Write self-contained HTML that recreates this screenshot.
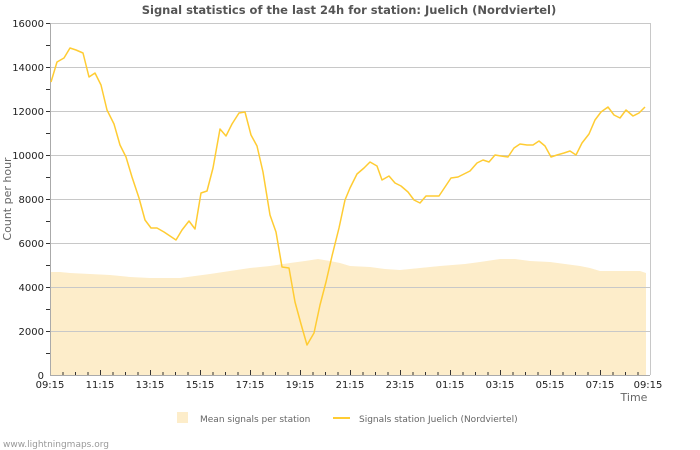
<!DOCTYPE html>
<html><head><meta charset="utf-8"><style>
body{margin:0;background:#fff;}
svg{display:block;font-family:"DejaVu Sans","Liberation Sans",sans-serif;}
</style></head><body>
<svg width="700" height="450" viewBox="0 0 700 450" xmlns="http://www.w3.org/2000/svg">
<rect width="700" height="450" fill="#fff"/>
<text x="349" y="14" text-anchor="middle" font-size="11.5" font-weight="bold" fill="#555">Signal statistics of the last 24h for station: Juelich (Nordviertel)</text>
<polygon fill="#fdedca" points="50.5,375 50.5,272 60,272 70,273 90,274 110,275 130,277 150,278 180,278 195,276 210,274 230,271 250,268 270,266 290,263 305,261 318,259 330,261 340,263 350,266 370,267 385,269 400,270 420,268 440,266 465,264 480,262 500,259 515,259 530,261 550,262 565,264 580,266 590,268 600,271 620,271 640,271 646,273 646,375"/>
<g stroke="#c8c8c8" stroke-width="1">
<line x1="50" y1="23.5" x2="650" y2="23.5"/>
<line x1="50" y1="67.5" x2="650" y2="67.5"/>
<line x1="50" y1="111.5" x2="650" y2="111.5"/>
<line x1="50" y1="155.5" x2="650" y2="155.5"/>
<line x1="50" y1="199.5" x2="650" y2="199.5"/>
<line x1="50" y1="243.5" x2="650" y2="243.5"/>
<line x1="50" y1="287.5" x2="650" y2="287.5"/>
<line x1="50" y1="331.5" x2="650" y2="331.5"/>
<line x1="650.5" y1="23" x2="650.5" y2="375"/>
</g>
<g stroke="#aaa" stroke-width="1">
<line x1="50.5" y1="23" x2="50.5" y2="375"/>
<line x1="50" y1="375.5" x2="650" y2="375.5"/>
</g>
<g stroke="#333" stroke-width="1">
<path d="M46 23.5h4M46 45.5h4M46 67.5h4M46 89.5h4M46 111.5h4M46 133.5h4M46 155.5h4M46 177.5h4M46 199.5h4M46 221.5h4M46 243.5h4M46 265.5h4M46 287.5h4M46 309.5h4M46 331.5h4M46 353.5h4"/>
<path d="M100.5 370v5M150.5 370v5M200.5 370v5M250.5 370v5M300.5 370v5M350.5 370v5M400.5 370v5M450.5 370v5M500.5 370v5M550.5 370v5M600.5 370v5"/>
<path d="M63 372v3M75.5 372v3M88 372v3M113 372v3M125.5 372v3M138 372v3M163 372v3M175.5 372v3M188 372v3M213 372v3M225.5 372v3M238 372v3M263 372v3M275.5 372v3M288 372v3M313 372v3M325.5 372v3M338 372v3M363 372v3M375.5 372v3M388 372v3M413 372v3M425.5 372v3M438 372v3M463 372v3M475.5 372v3M488 372v3M513 372v3M525.5 372v3M538 372v3M563 372v3M575.5 372v3M588 372v3M613 372v3M625.5 372v3M638 372v3"/>
</g>
<g font-size="10" fill="#222" text-anchor="end">
<text x="44" y="27">16000</text><text x="44" y="71">14000</text><text x="44" y="115">12000</text><text x="44" y="159">10000</text><text x="44" y="203">8000</text><text x="44" y="247">6000</text><text x="44" y="291">4000</text><text x="44" y="335">2000</text><text x="44" y="379">0</text>
</g>
<g font-size="10" fill="#222" text-anchor="middle">
<text x="50" y="388">09:15</text><text x="100" y="388">11:15</text><text x="150" y="388">13:15</text><text x="200" y="388">15:15</text><text x="250" y="388">17:15</text><text x="300" y="388">19:15</text><text x="350" y="388">21:15</text><text x="400" y="388">23:15</text><text x="450" y="388">01:15</text><text x="500" y="388">03:15</text><text x="550" y="388">05:15</text><text x="600" y="388">07:15</text><text x="648" y="388">09:15</text>
</g>
<text x="634" y="401" font-size="11" fill="#666" text-anchor="middle">Time</text>
<text transform="translate(11,199) rotate(-90)" font-size="11" fill="#666" text-anchor="middle">Count per hour</text>
<polyline fill="none" stroke="#ffcc33" stroke-width="1.5" stroke-linejoin="round" points="51,82 57,62 64,58 70,48 76,50 83,53 89,77 95,73 101,85 107,110 114,124 120,145 126,157 132,177 139,198 145,220 151,228 157,228 164,232 170,236 176,240 182,230 189,221 195,229 201,193 207,191 213,168 220,129 226,136 232,124 239,113 245,112 251,135 257,146 263,172 270,215 276,232 282,267 289,268 295,302 301,324 307,345 314,333 320,305 326,282 332,256 339,228 345,200 350,188 357,174 364,168 370,162 377,166 382,180 389,176 395,183 401,186 408,192 414,200 420,203 426,196 432,196 439,196 445,187 451,178 458,177 464,174 470,171 477,163 483,160 489,162 495,155 501,156 508,157 514,148 520,144 527,145 533,145 539,141 545,146 551,157 557,155 564,153 570,151 576,155 582,143 589,134 595,120 601,112 608,107 614,115 620,118 626,110 633,116 639,113 645,107"/>
<rect x="177" y="412" width="11" height="11" fill="#fdedca"/>
<text x="200" y="422" font-size="9" fill="#666">Mean signals per station</text>
<line x1="333" y1="418" x2="350" y2="418" stroke="#ffcc33" stroke-width="2"/>
<text x="359" y="422" font-size="9" fill="#666">Signals station Juelich (Nordviertel)</text>
<text x="3" y="447" font-size="9" fill="#999">www.lightningmaps.org</text>
</svg>
</body></html>
